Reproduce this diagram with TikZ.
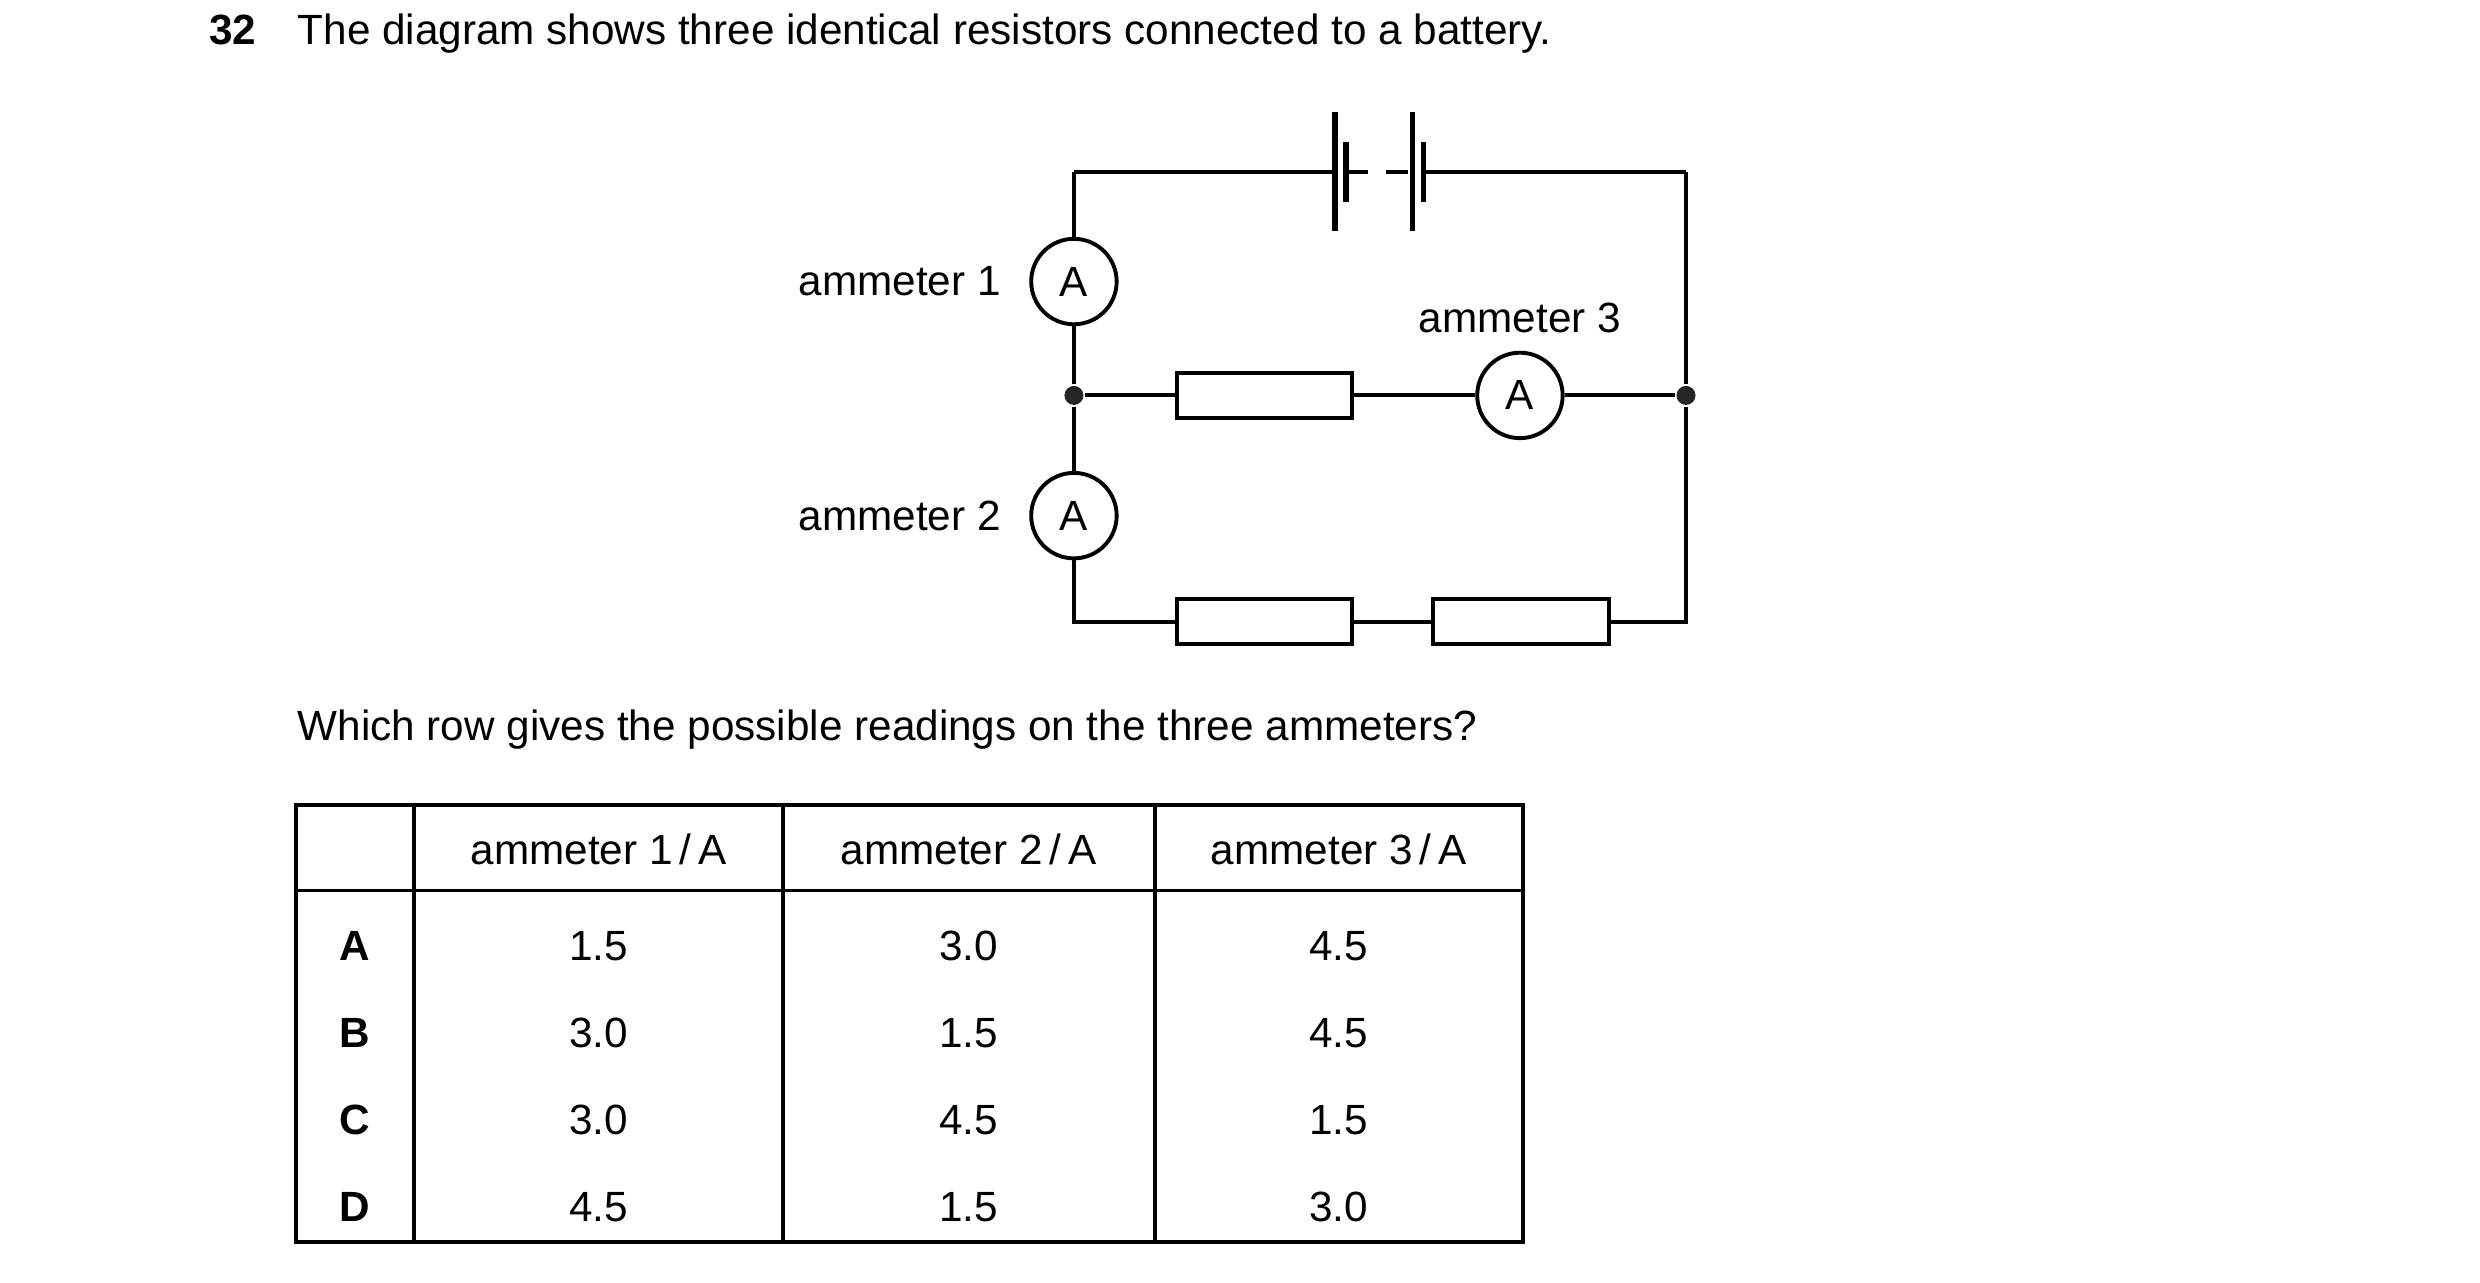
\documentclass[tikz,border=0pt]{standalone}
\usepackage{fontspec}
\setmainfont{Liberation Sans}
\begin{document}
\begin{tikzpicture}[x=0.01cm, y=-0.01cm, line width=0.7pt,
	every node/.style={font=\fontsize{7.6}{9}\selectfont, inner sep=0pt},
	meter/.style={draw, circle, minimum size=0.54cm, fill=white},
	resistor/.style={draw, rectangle, minimum width=1.11cm, minimum height=0.28cm, fill=white},
	junction/.style={circle, fill=black!85, minimum size=0.12cm}]

	% Page frame
	\useasboundingbox (0, 0) rectangle (1568, 811);

	% Question text
	\node [anchor = base west, font = \fontsize{7.6}{9}\selectfont\bfseries] (num) at (131, 28) {32};
	\node [anchor = base west] (q) at (187, 28) {The diagram shows three identical resistors connected to a battery.};

	% Corners and junctions
	\coordinate (tl) at (679, 109);
	\coordinate (tr) at (1066, 109);
	\coordinate (bl) at (679, 393);
	\coordinate (br) at (1066, 393);
	\node [junction] (jl) at (679, 250) {};
	\node [junction] (jr) at (1066, 250) {};

	% Battery
	\coordinate (bat1) at (844, 109);
	\coordinate (bat2) at (900, 109);
	\draw (tl) -- (bat1);
	\draw (bat2) -- (tr);
	\draw [line width = 1pt] (844, 71) -- (844, 146);
	\draw [line width = 1pt] (851, 90) -- (851, 128);
	\draw [line width = 1pt] (893, 71) -- (893, 146);
	\draw [line width = 1pt] (900, 90) -- (900, 128);
	\draw [dash pattern = on 4pt off 3.2pt] (851, 109) -- (893, 109);

	% Meters and resistors
	\node [meter] (am1) at (679, 178) {A};
	\node [meter] (am2) at (679, 326) {A};
	\node [meter] (am3) at (961, 250) {A};
	\node [resistor] (r1) at (799.5, 250) {};
	\node [resistor] (r2) at (799.5, 393) {};
	\node [resistor] (r3) at (961.5, 393) {};

	% Wires
	\draw (tl) -- (am1) -- (jl) -- (am2) -- (bl) -- (r2) -- (r3) -- (br) -- (jr) -- (tr);
	\draw (jl) -- (r1) -- (am3) -- (jr);

	% Meter labels
	\node [anchor = east] (lab1) at (634, 178) {ammeter 1};
	\node [anchor = east] (lab2) at (634, 326) {ammeter 2};
	\node (lab3) at (961, 201) {ammeter 3};

	% Second question
	\node [anchor = base west] (q2) at (187, 468) {Which row gives the possible readings on the three ammeters?};

	% Table
	\draw (187, 509) rectangle (963, 785);
	\draw (187, 563) -- (963, 563);
	\foreach \x in {262, 495, 730}
		\draw (\x, 509) -- (\x, 785);
	\node (h1) at (378.5, 537) {ammeter 1\,/\,A};
	\node (h2) at (612.5, 537) {ammeter 2\,/\,A};
	\node (h3) at (846.5, 537) {ammeter 3\,/\,A};
	\foreach \l/\a/\b/\c [count = \i from 0] in {A/1.5/3.0/4.5, B/3.0/1.5/4.5, C/3.0/4.5/1.5, D/4.5/1.5/3.0}
	{
		\node [font = \fontsize{7.6}{9}\selectfont\bfseries] (row\l) at (224.5, 598 + 55 * \i) {\l};
		\node (a\l) at (378.5, 598 + 55 * \i) {\a};
		\node (b\l) at (612.5, 598 + 55 * \i) {\b};
		\node (c\l) at (846.5, 598 + 55 * \i) {\c};
	}

\end{tikzpicture}
\end{document}
